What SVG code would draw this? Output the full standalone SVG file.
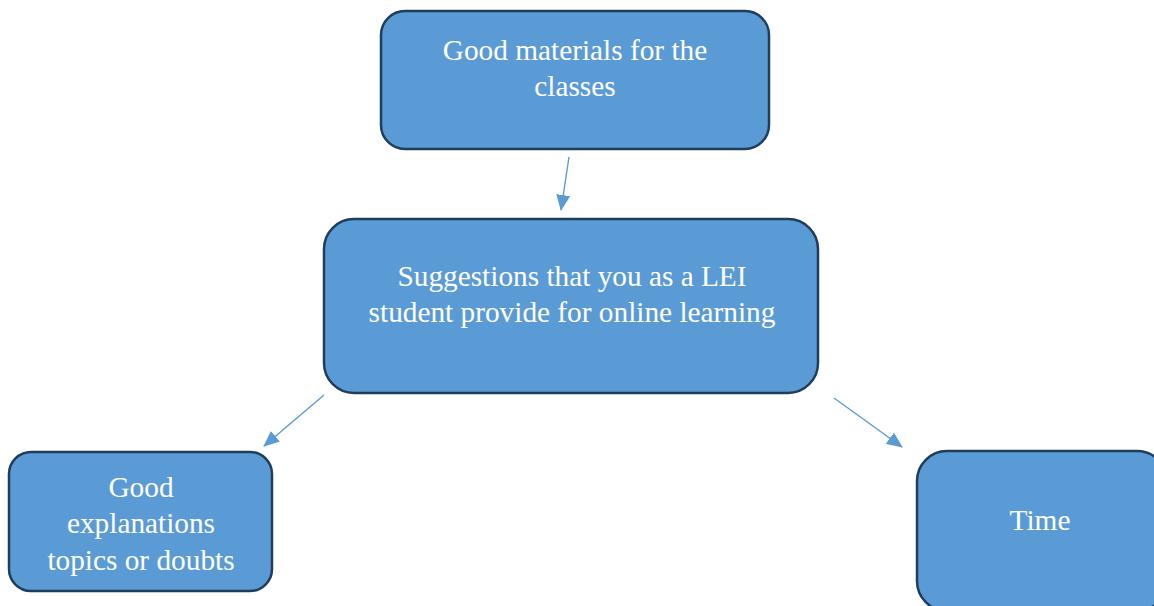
<svg xmlns="http://www.w3.org/2000/svg" width="1154" height="606" viewBox="0 0 1154 606">
  <style>
    .box { fill: #5b9bd5; stroke: #213d5c; stroke-width: 2.5; }
    .label { font-family: "Liberation Serif", "Times New Roman", serif; font-size: 29.3px; fill: #ffffff; text-anchor: middle; }
    .link { stroke: #5b9bd5; stroke-width: 1.4; fill: none; marker-end: url(#head); }
  </style>
  <defs>
    <marker id="head" viewBox="0 0 16 14" refX="15" refY="7" markerWidth="16" markerHeight="14" markerUnits="userSpaceOnUse" orient="auto">
      <path d="M0,0 L16,7 L0,14 Z" fill="#5b9bd5"/>
    </marker>
  </defs>
  <rect width="1154" height="606" fill="#ffffff"/>

  <g id="connectors">
    <line class="link" x1="569" y1="157" x2="561" y2="210"/>
    <line class="link" x1="324" y1="395" x2="264" y2="446"/>
    <line class="link" x1="834" y1="398" x2="902" y2="447"/>
  </g>

  <g id="materials">
    <rect class="box" x="381" y="11" width="388" height="138" rx="24"/>
    <text class="label" x="575" y="60">Good materials for the</text>
    <text class="label" x="575" y="96">classes</text>
  </g>

  <g id="suggestions">
    <rect class="box" x="324" y="219" width="494" height="174" rx="30"/>
    <text class="label" x="572" y="286">Suggestions that you as a LEI</text>
    <text class="label" x="572" y="322">student provide for online learning</text>
  </g>

  <g id="explanations">
    <rect class="box" x="9" y="452" width="263" height="139" rx="22"/>
    <text class="label" x="141" y="497">Good</text>
    <text class="label" x="141" y="533">explanations</text>
    <text class="label" x="141" y="570">topics or doubts</text>
  </g>

  <g id="time">
    <rect class="box" x="917" y="451" width="250" height="160" rx="30"/>
    <text class="label" x="1040" y="530">Time</text>
  </g>
</svg>
